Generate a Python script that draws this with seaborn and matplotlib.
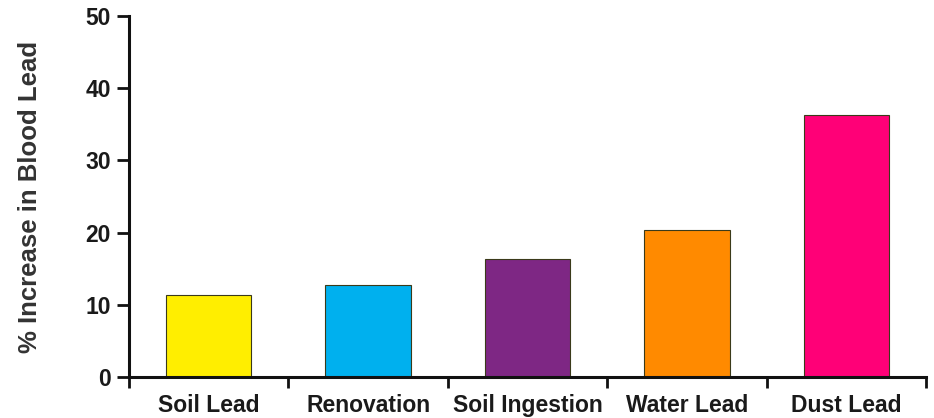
import matplotlib
matplotlib.use("Agg")
import matplotlib.pyplot as plt
import seaborn as sns
import pandas as pd
import numpy as np

sources = ["Soil Lead", "Renovation", "Soil Ingestion", "Water Lead", "Dust Lead"]
increase = [11.4, 12.8, 16.3, 20.4, 36.3]
colors = ["#FFEE00", "#00B0EE", "#7E2784", "#FF8A00", "#FF0077"]
y_ticks = [0, 10, 20, 30, 40, 50]

sns.set_theme(style="ticks")
plt.rcParams["font.family"] = ["Liberation Sans", "DejaVu Sans"]

df = pd.DataFrame({"source": sources, "increase": increase})

fig = plt.figure(figsize=(9.34, 4.18), dpi=100)
ax = fig.add_axes([0.1381, 0.098, 0.8533, 0.8637])

sns.barplot(data=df, x="source", y="increase", hue="source", palette=colors,
            legend=False, width=0.535, edgecolor="#3a3a1a", linewidth=0.8,
            saturation=1, ax=ax)

ax.set_xlim(-0.5, len(sources) - 0.5)
ax.set_ylim(0, 50)
ax.set_yticks(y_ticks)
ax.set_yticklabels([str(t) for t in y_ticks], fontsize=16.5, fontweight="bold",
                   color="#1a1a1a")
ax.set_xticks(range(len(sources)))
ax.set_xticklabels(sources, fontsize=16.5, fontweight="bold", color="#1a1a1a")
ax.set_xticks(np.arange(-0.5, len(sources)), minor=True)
ax.tick_params(axis="x", which="major", length=0, pad=12)
ax.tick_params(axis="x", which="minor", length=8, width=2, direction="out", color="#111111")
ax.tick_params(axis="y", length=9, width=2, pad=4, color="#111111")

ax.set_xlabel("")
ax.set_ylabel("% Increase in Blood Lead", fontsize=18.5, fontweight="bold",
              color="#333333", labelpad=31)

for side in ["top", "right"]:
    ax.spines[side].set_visible(False)
for side in ["left", "bottom"]:
    ax.spines[side].set_linewidth(2.2)
    ax.spines[side].set_color("#111111")

fig.savefig("out.png", dpi=100)
